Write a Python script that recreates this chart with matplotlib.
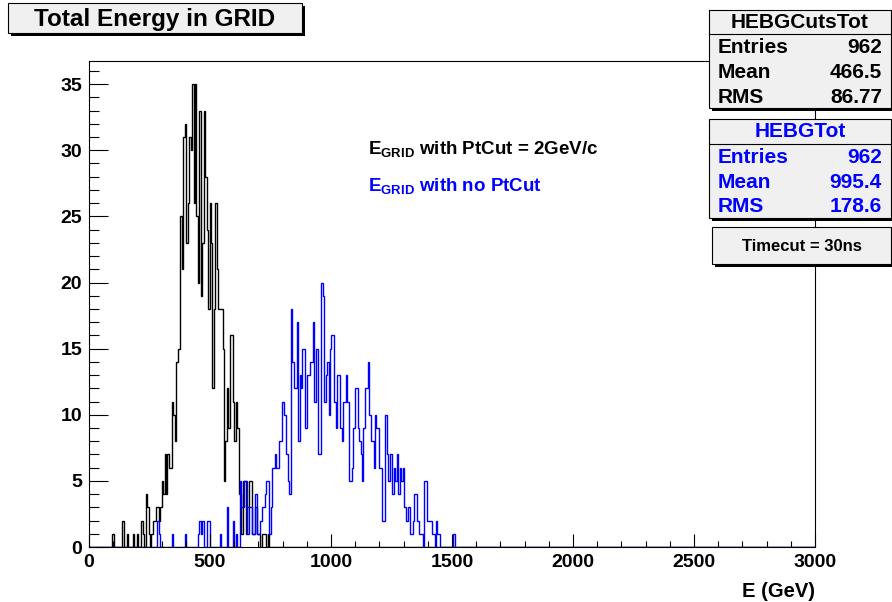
import numpy as np
import matplotlib
matplotlib.use("Agg")
import matplotlib.pyplot as plt
from matplotlib.patches import Rectangle

plt.rcParams['font.family'] = ['Liberation Sans', 'DejaVu Sans']
plt.rcParams['font.weight'] = 'bold'
plt.rcParams['mathtext.fontset'] = 'custom'
plt.rcParams['mathtext.bf'] = 'Liberation Sans:bold'
plt.rcParams['mathtext.rm'] = 'Liberation Sans:bold'

# histogram binning : 500 bins from 0 to 3000 GeV (6 GeV per bin)
bin_width = 6
x_max = 3000

# HEBGCutsTot (black) : counts per bin, first bin starts at 96 GeV
cuts_first_edge = 96
cuts_counts = [1, 0, 0, 0, 0, 0, 0, 2, 0, 0,
               1, 0, 0, 0, 1, 0, 0, 1, 0, 0,
               2, 1, 0, 4, 3, 1, 0, 1, 2, 2,
               3, 3, 2, 3, 5, 4, 7, 4, 7, 6,
               6, 11, 10, 8, 14, 15, 15, 25, 21, 31,
               32, 23, 26, 31, 30, 35, 26, 35, 25, 20,
               33, 19, 23, 33, 28, 24, 18, 26, 23, 12,
               18, 26, 21, 18, 18, 18, 15, 5, 8, 12,
               9, 16, 16, 11, 8, 11, 9, 4, 4, 1,
               5, 5, 1, 3, 5, 5, 1, 1, 3, 3,
               1, 1, 0, 1, 1, 1, 0, 1]

# HEBGTot (blue) : counts per bin, first bin starts at 282 GeV
tot_first_edge = 282
tot_counts = [2, 1, 0, 0, 0, 0, 0, 0, 0, 0,
              1, 0, 0, 0, 0, 0, 0, 0, 0, 1,
              0, 0, 0, 0, 0, 0, 0, 0, 1, 2,
              1, 2, 0, 0, 2, 2, 0, 0, 0, 0,
              0, 0, 0, 1, 0, 0, 0, 0, 3, 0,
              0, 0, 2, 0, 1, 0, 0, 5, 3, 3,
              5, 5, 1, 3, 3, 1, 1, 4, 4, 1,
              1, 2, 3, 3, 4, 5, 5, 1, 3, 6,
              6, 7, 6, 6, 8, 8, 11, 10, 10, 7,
              5, 4, 18, 14, 12, 12, 17, 8, 13, 12,
              15, 15, 9, 13, 13, 14, 14, 17, 11, 15,
              15, 7, 7, 20, 19, 11, 13, 14, 10, 15,
              16, 16, 11, 9, 13, 13, 9, 8, 11, 11,
              13, 11, 5, 5, 6, 9, 12, 12, 9, 8,
              7, 5, 9, 12, 12, 14, 10, 8, 8, 6,
              10, 9, 9, 6, 6, 2, 2, 10, 7, 5,
              7, 7, 4, 6, 5, 7, 4, 6, 5, 6,
              3, 2, 2, 3, 1, 1, 2, 4, 4, 2,
              1, 1, 1, 0, 5, 5, 2, 2, 2, 1,
              1, 0, 2, 1, 1, 0, 0, 0, 0, 0,
              0, 0, 0, 0, 1, 0]

# statistics boxes
stat_names = ['Entries', 'Mean', 'RMS']
cuts_stats = ['962', '466.5', '86.77']
tot_stats = ['962', '995.4', '178.6']

edges = np.arange(0, x_max + bin_width, bin_width)


def full_hist(first_edge, counts):
    h = np.zeros(len(edges) - 1)
    k = first_edge // bin_width
    h[k:k + len(counts)] = counts
    return h


h_cuts = full_hist(cuts_first_edge, cuts_counts)
h_tot = full_hist(tot_first_edge, tot_counts)

W, H = 892, 602
fig = plt.figure(figsize=(W / 100, H / 100), dpi=100)
ax = fig.add_axes([89 / W, 1 - 547 / H, (815 - 89) / W, (547 - 61) / H])

ax.stairs(h_cuts, edges, color='black', lw=1.0)
ax.stairs(h_tot, edges, color='#0000ff', lw=1.0)

ax.set_xlim(0, x_max)
ax.set_ylim(0, 1.05 * max(h_cuts.max(), h_tot.max()))
ax.set_xticks(np.arange(0, x_max + 1, 500))
ax.set_xticks(np.arange(0, x_max + 1, 100), minor=True)
ax.set_yticks(np.arange(0, 36, 5))
ax.set_yticks(np.arange(0, 37, 1), minor=True)
ax.tick_params(axis='x', which='major', direction='in', length=9.5, width=0.8,
               labelsize=14, pad=5)
ax.tick_params(axis='x', which='minor', direction='in', length=4.5, width=0.8)
ax.tick_params(axis='y', which='major', direction='in', length=14, width=0.8,
               labelsize=14, pad=5)
ax.tick_params(axis='y', which='minor', direction='in', length=7, width=0.8)
for s in ax.spines.values():
    s.set_linewidth(0.8)


def box(x0, y0, x1, y1, shadow=3):
    # black drop shadow then light grey box, pixel coordinates from top left
    fig.add_artist(Rectangle((x0 / W + shadow / W, 1 - (y1 + shadow) / H),
                             (x1 - x0) / W, (y1 - y0) / H,
                             transform=fig.transFigure, facecolor='black',
                             edgecolor='none', zorder=5))
    fig.add_artist(Rectangle((x0 / W, 1 - y1 / H), (x1 - x0) / W, (y1 - y0) / H,
                             transform=fig.transFigure, facecolor='#f0f0f0',
                             edgecolor='black', lw=0.8, zorder=6))


def hline(x0, x1, y):
    fig.add_artist(plt.Line2D([x0 / W, x1 / W], [1 - y / H, 1 - y / H],
                              transform=fig.transFigure, color='black',
                              lw=0.8, zorder=7))


def ftext(x, y, s, **kw):
    fig.text(x / W, 1 - y / H, s, va='baseline', zorder=8, **kw)


# title
box(8, 3, 302, 33)
ftext(155, 26, 'Total Energy in GRID', ha='center', fontsize=17.5)

# stats box HEBGCutsTot
box(709, 10, 891, 108)
hline(709, 891, 34)
ftext(800, 28, 'HEBGCutsTot', ha='center', fontsize=15)
for k, (n, v) in enumerate(zip(stat_names, cuts_stats)):
    ftext(718, 53 + 25 * k, n, fontsize=15)
    ftext(882, 53 + 25 * k, v, ha='right', fontsize=15)

# stats box HEBGTot
box(709, 119, 891, 218)
hline(709, 891, 144)
ftext(800, 137, 'HEBGTot', ha='center', fontsize=15, color='#0000ff')
for k, (n, v) in enumerate(zip(stat_names, tot_stats)):
    ftext(718, 163 + 24.5 * k, n, fontsize=15, color='#0000ff')
    ftext(882, 163 + 24.5 * k, v, ha='right', fontsize=15, color='#0000ff')

# timecut box
box(712, 227, 891, 264)
ftext(802, 251, 'Timecut = 30ns', ha='center', fontsize=12)

# legend texts
ftext(368, 155, r'$\mathbf{E}_{\mathbf{GRID}}$ with PtCut = 2GeV/c', fontsize=13.5)
ftext(368, 192, r'$\mathbf{E}_{\mathbf{GRID}}$ with no PtCut', fontsize=13.5,
      color='#0000ff')

# axis title
ftext(815, 597, 'E (GeV)', ha='right', fontsize=14.5)

fig.savefig('out.png', dpi=100)
